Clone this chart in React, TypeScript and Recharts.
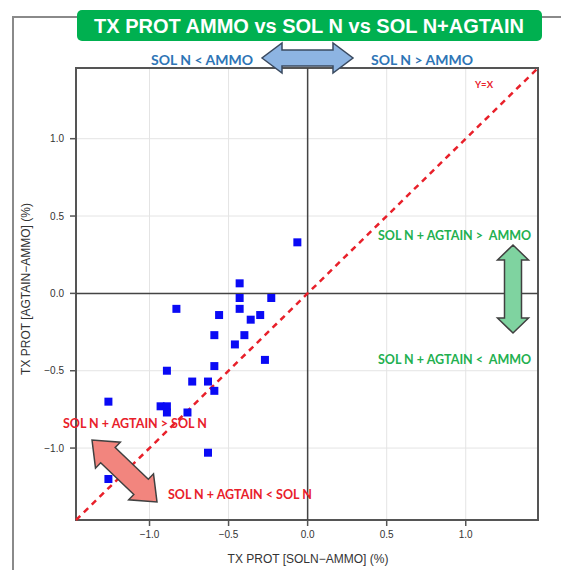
import {
  ScatterChart,
  Scatter,
  XAxis,
  YAxis,
  ZAxis,
  CartesianGrid,
  ReferenceLine,
  ReferenceArea
} from 'recharts';

// TX PROT differences (%), one entry per plot
const SOLN_AMMO = [
  -0.065, -0.43, -0.43, -0.23, -0.43, -0.83, -0.56, -0.3, -0.36, -0.59, -0.4, -0.46, -0.27,
  -0.59, -0.89, -0.73, -0.63, -0.59, -1.26, -0.93, -0.89, -0.89, -0.76, -0.63, -1.26
];
const AGTAIN_AMMO = [
  0.33, 0.065, -0.03, -0.03, -0.1, -0.1, -0.14, -0.14, -0.17, -0.27, -0.27, -0.33, -0.43,
  -0.47, -0.5, -0.57, -0.57, -0.63, -0.7, -0.73, -0.73, -0.77, -0.77, -1.03, -1.2
];

const TICKS = [-1, -0.5, 0, 0.5, 1];
const DOMAIN: [number, number] = [-1.465, 1.457];

const points = SOLN_AMMO.map((x, i) => ({ x, y: AGTAIN_AMMO[i] }));

const fmtTick = (v: number) => v.toFixed(1).replace('-', '\u2212');

// polygon for a double-headed block arrow between two tips
const doubleArrow = (
  x1: number, y1: number, x2: number, y2: number,
  headLen: number, headW: number, shaftW: number
) => {
  const len = Math.hypot(x2 - x1, y2 - y1);
  const ux = (x2 - x1) / len;
  const uy = (y2 - y1) / len;
  const nx = -uy;
  const ny = ux;
  const b1 = [x1 + ux * headLen, y1 + uy * headLen];
  const b2 = [x2 - ux * headLen, y2 - uy * headLen];
  const at = (b: number[], w: number) => `${b[0] + nx * w},${b[1] + ny * w}`;
  return [
    `${x1},${y1}`,
    at(b1, headW / 2),
    at(b1, shaftW / 2),
    at(b2, shaftW / 2),
    at(b2, headW / 2),
    `${x2},${y2}`,
    at(b2, -headW / 2),
    at(b2, -shaftW / 2),
    at(b1, -shaftW / 2),
    at(b1, -headW / 2)
  ].join(' ');
};

const NOTE_FONT = 'Lato, "Open Sans", sans-serif';
const AXIS_FONT = '"Liberation Sans", Arial, sans-serif';

const App = () => {
  return (
    <div style={{ position: 'absolute', left: 0, top: 0, width: 561, height: 570, background: '#fff', overflow: 'hidden' }}>
      {/* outer frame */}
      <div
        style={{
          position: 'absolute',
          left: 12,
          top: 16,
          width: 600,
          height: 600,
          borderLeft: '2px solid #8a8a8a',
          borderTop: '2px solid #8a8a8a'
        }}
      />
      <div style={{ position: 'absolute', left: 0, top: 0 }}>
        <ScatterChart width={561} height={570} margin={{ top: 68, right: 23, bottom: 0, left: 0 }}>
          <CartesianGrid stroke="#e4e4e4" strokeWidth={1} />
          <XAxis
            type="number"
            dataKey="x"
            domain={DOMAIN}
            ticks={TICKS}
            allowDataOverflow
            height={50}
            tickFormatter={fmtTick}
            tickMargin={5}
            tick={{ fontSize: 10, fill: '#333', fontFamily: AXIS_FONT }}
            axisLine={false}
            tickLine={{ stroke: '#555', strokeWidth: 1.5 }}
          />
          <YAxis
            type="number"
            dataKey="y"
            domain={DOMAIN}
            ticks={TICKS}
            allowDataOverflow
            width={76}
            tickFormatter={fmtTick}
            tickMargin={6}
            tick={{ fontSize: 10, fill: '#333', fontFamily: AXIS_FONT }}
            axisLine={false}
            tickLine={{ stroke: '#555', strokeWidth: 1.5 }}
          />
          <ZAxis range={[100, 100]} />
          <ReferenceArea
            x1={DOMAIN[0]}
            x2={DOMAIN[1]}
            y1={DOMAIN[0]}
            y2={DOMAIN[1]}
            fill="none"
            stroke="#555"
            strokeWidth={2}
            fillOpacity={0}
          />
          <ReferenceLine x={0} stroke="#444" strokeWidth={1.5} />
          <ReferenceLine y={0} stroke="#444" strokeWidth={1.5} />
          <ReferenceLine
            segment={[
              { x: DOMAIN[0], y: DOMAIN[0] },
              { x: DOMAIN[1], y: DOMAIN[1] }
            ]}
            stroke="#e8202a"
            strokeWidth={2.5}
            strokeDasharray="6 5"
          />
          <Scatter data={points} shape="square" fill="#0a0af5" isAnimationActive={false} />
        </ScatterChart>
      </div>
      <svg
        width={561}
        height={570}
        style={{ position: 'absolute', left: 0, top: 0, pointerEvents: 'none' }}
      >
        {/* title */}
        <rect x={77} y={10} width={465} height={31} rx={5} fill="#00b050" />
        <text
          x={309}
          y={33}
          textAnchor="middle"
          fill="#fff"
          fontFamily={AXIS_FONT}
          fontWeight="bold"
          fontSize={20}
        >
          TX PROT AMMO vs SOL N vs SOL N+AGTAIN
        </text>

        {/* top annotations */}
        <polygon points={doubleArrow(262, 58, 353, 58, 20, 30, 16)} fill="#8db4e2" stroke="#3a4a60" strokeWidth={1.5} />
        <text x={202} y={65} textAnchor="middle" fill="#2e75b6" fontFamily={NOTE_FONT} fontWeight="bold" fontSize={14}>
          SOL N &lt; AMMO
        </text>
        <text x={422} y={65} textAnchor="middle" fill="#2e75b6" fontFamily={NOTE_FONT} fontWeight="bold" fontSize={14}>
          SOL N &gt; AMMO
        </text>
        <text x={484} y={88} textAnchor="middle" fill="#e8202a" fontFamily={NOTE_FONT} fontWeight="bold" fontSize={9.5}>
          Y=X
        </text>

        {/* right annotations */}
        <text x={378} y={240} fill="#22b050" fontFamily={NOTE_FONT} fontWeight="bold" fontSize={12.5} xmlSpace="preserve">
          SOL N + AGTAIN &gt;  AMMO
        </text>
        <polygon points={doubleArrow(513, 245, 513, 333, 15, 31, 17)} fill="#7fd3a0" stroke="#404040" strokeWidth={1.5} />
        <text x={378} y={364} fill="#22b050" fontFamily={NOTE_FONT} fontWeight="bold" fontSize={12.5} xmlSpace="preserve">
          SOL N + AGTAIN &lt;  AMMO
        </text>

        {/* lower-left annotations */}
        <text x={63} y={428} fill="#e8202a" fontFamily={NOTE_FONT} fontWeight="bold" fontSize={12.5}>
          SOL N + AGTAIN &gt; SOL N
        </text>
        <polygon points={doubleArrow(92, 440, 157, 502, 22, 36, 21)} fill="#f2857e" stroke="#404040" strokeWidth={1.5} />
        <text x={168} y={499} fill="#e8202a" fontFamily={NOTE_FONT} fontWeight="bold" fontSize={12.5}>
          SOL N + AGTAIN &lt; SOL N
        </text>

        {/* axis titles */}
        <text x={308} y={563} textAnchor="middle" fill="#333" fontFamily={AXIS_FONT} fontSize={12}>
          TX PROT [SOLN{'\u2212'}AMMO] (%)
        </text>
        <text
          x={30}
          y={289}
          transform="rotate(-90 30 289)"
          textAnchor="middle"
          fill="#333"
          fontFamily={AXIS_FONT}
          fontSize={12}
        >
          TX PROT [AGTAIN{'\u2212'}AMMO] (%)
        </text>
      </svg>
    </div>
  );
};

export default App;
